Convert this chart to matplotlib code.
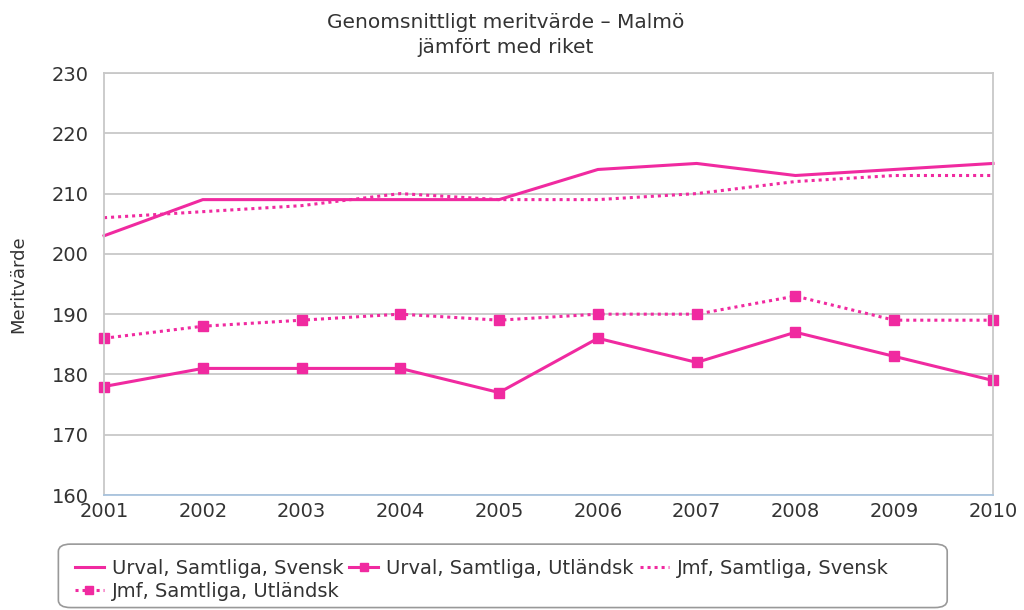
import matplotlib
matplotlib.use("Agg")
import matplotlib.pyplot as plt
from matplotlib.ticker import MultipleLocator
from matplotlib.patches import FancyBboxPatch

plt.rcParams['font.family'] = ['DejaVu Sans']

years = [2001, 2002, 2003, 2004, 2005, 2006, 2007, 2008, 2009, 2010]
urval_svensk = [203, 209, 209, 209, 209, 214, 215, 213, 214, 215]
urval_utlandsk = [178, 181, 181, 181, 177, 186, 182, 187, 183, 179]
jmf_svensk = [206, 207, 208, 210, 209, 209, 210, 212, 213, 213]
jmf_utlandsk = [186, 188, 189, 190, 189, 190, 190, 193, 189, 189]

labels = ["Urval, Samtliga, Svensk", "Urval, Samtliga, Utländsk",
          "Jmf, Samtliga, Svensk", "Jmf, Samtliga, Utländsk"]

pink = "#F02AA0"
grid_col = "#C8C8C8"
text_col = "#333333"


def main():
    fig = plt.figure(figsize=(10.24, 6.10), dpi=100)
    ax = fig.add_axes([0.1016, 0.1885, 0.8681, 0.6918])

    dots = (0, (1, 1.3))
    h0, = ax.plot(years, urval_svensk, color=pink, lw=2.2)
    h1, = ax.plot(years, urval_utlandsk, color=pink, lw=2.2,
                  marker='s', markersize=7)
    h2, = ax.plot(years, jmf_svensk, color=pink, lw=2.2, ls=dots)
    h3, = ax.plot(years, jmf_utlandsk, color=pink, lw=2.2, ls=dots,
                  marker='s', markersize=7)
    for h in (h0, h1, h2, h3):
        h.set_clip_on(False)

    ax.set_xlim(2001, 2010)
    ax.set_ylim(160, 230)
    ax.set_xticks(years)
    ax.yaxis.set_major_locator(MultipleLocator(10))
    ax.grid(axis='y', color=grid_col, lw=1.3)
    ax.set_axisbelow(True)
    for s in ax.spines.values():
        s.set_color(grid_col)
        s.set_linewidth(1.3)
    ax.spines['bottom'].set_color("#A9C4DE")
    ax.tick_params(length=0, labelsize=14, colors=text_col)
    ax.tick_params(axis='y', pad=11)
    ax.tick_params(axis='x', pad=5)

    ax.set_ylabel("Meritvärde", fontsize=13, color=text_col, labelpad=18)
    fig.text(506 / 1024, 1 - 35 / 610,
             "Genomsnittligt meritvärde – Malmö\njämfört med riket",
             ha='center', va='center', fontsize=14.5, color=text_col,
             linespacing=1.35)

    # legend box drawn separately so it can be wider than its content
    box = FancyBboxPatch((0.057, 0.004), 0.868, 0.104,
                         boxstyle="round,pad=0,rounding_size=0.012",
                         transform=fig.transFigure, fc="white",
                         ec="#999999", lw=1.2)
    fig.patches.append(box)

    fig.legend([h0, h3, h1, h2],
               [labels[0], labels[3], labels[1], labels[2]],
               ncol=3, loc='upper left',
               bbox_to_anchor=(0.056, 0.112),
               fontsize=14, frameon=False,
               handlelength=1.5, handletextpad=0.4, columnspacing=0.3,
               labelspacing=0.2, borderpad=0.4, markerscale=0.9,
               labelcolor=text_col)

    fig.savefig("out.png", dpi=100)


if __name__ == "__main__":
    main()
